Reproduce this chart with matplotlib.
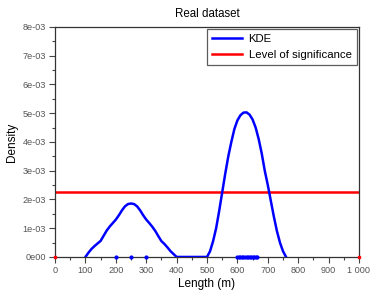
import matplotlib
matplotlib.use("Agg")
import matplotlib.pyplot as plt
from matplotlib.ticker import MultipleLocator, FuncFormatter

plt.rcParams["font.family"] = ["Liberation Sans", "DejaVu Sans"]

# KDE curve (x in m, density in 1e-3)
kde_x = [100, 110, 120, 130, 140, 150, 160, 170, 180, 190, 200, 210, 220, 230, 240,
         250, 260, 270, 280, 290, 300, 310, 320, 330, 340, 350, 360, 370, 380, 390,
         400, 450, 500, 510, 520, 530, 540, 550, 560, 570, 580, 590, 600, 610, 620,
         630, 640, 650, 660, 670, 680, 690, 700, 710, 720, 730, 740, 750, 760]
kde_y = [0.0, 0.15, 0.28, 0.38, 0.47, 0.56, 0.74, 0.92, 1.06, 1.18, 1.3, 1.45, 1.62, 1.76, 1.84,
         1.86, 1.84, 1.76, 1.62, 1.45, 1.3, 1.18, 1.05, 0.9, 0.72, 0.55, 0.45, 0.33, 0.2, 0.1,
         0.0, 0.0, 0.0, 0.2, 0.55, 1.0, 1.6, 2.25, 2.9, 3.5, 4.0, 4.45, 4.75, 4.93, 5.02,
         5.03, 4.95, 4.78, 4.5, 4.1, 3.6, 3.0, 2.5, 1.95, 1.4, 0.9, 0.5, 0.2, 0.0]

# observed lengths (rug)
obs_x = [200, 250, 300, 600, 605, 610, 615, 620, 625, 630, 635, 640, 645, 650, 655, 660, 665]
bounds_x = [0, 1000]

significance = 2.26  # in 1e-3

fig = plt.figure(figsize=(3.72, 2.93), dpi=100)
ax = fig.add_axes([0.148, 0.123, 0.817, 0.785])

ax.plot(kde_x, [v * 1e-3 for v in kde_y], color="#0000ff", lw=1.8, label="KDE", zorder=3)
ax.axhline(significance * 1e-3, color="#ff0000", lw=1.8, label="Level of significance", zorder=2)
ax.plot(obs_x, [0] * len(obs_x), "o", color="#0000ff", ms=2.0, zorder=4, clip_on=False)
ax.plot(bounds_x, [0] * len(bounds_x), "s", color="#ff0000", ms=2, zorder=4, clip_on=False)

ax.set_xlim(0, 1000)
ax.set_ylim(0, 8e-3)
ax.xaxis.set_major_locator(MultipleLocator(100))
ax.xaxis.set_minor_locator(MultipleLocator(50))
ax.yaxis.set_major_locator(MultipleLocator(1e-3))
ax.yaxis.set_minor_locator(MultipleLocator(5e-4))
ax.xaxis.set_major_formatter(FuncFormatter(lambda v, p: "1 000" if v >= 1000 else f"{v:.0f}"))
ax.yaxis.set_major_formatter(FuncFormatter(lambda v, p: "0e00" if v == 0 else f"{round(v * 1000):d}e-03"))

ax.tick_params(which="major", length=4, width=0.8, color="#444444", labelsize=6.6,
               labelcolor="#555555", pad=2.5)
ax.tick_params(which="minor", length=2, width=0.8, color="#444444")
for s in ax.spines.values():
    s.set_color("#333333")
    s.set_linewidth(0.9)

ax.set_title("Real dataset", fontsize=8.3, pad=7)
ax.set_xlabel("Length (m)", fontsize=8.5, labelpad=2.5)
ax.set_ylabel("Density", fontsize=8.5, labelpad=3)

leg = ax.legend(loc="upper right", fontsize=8.2, frameon=True, fancybox=False,
                edgecolor="#333333", borderaxespad=0.2, handlelength=2.6,
                handletextpad=0.6, labelspacing=0.5, borderpad=0.45)
leg.get_frame().set_linewidth(0.9)

fig.savefig("out.png", dpi=100)
